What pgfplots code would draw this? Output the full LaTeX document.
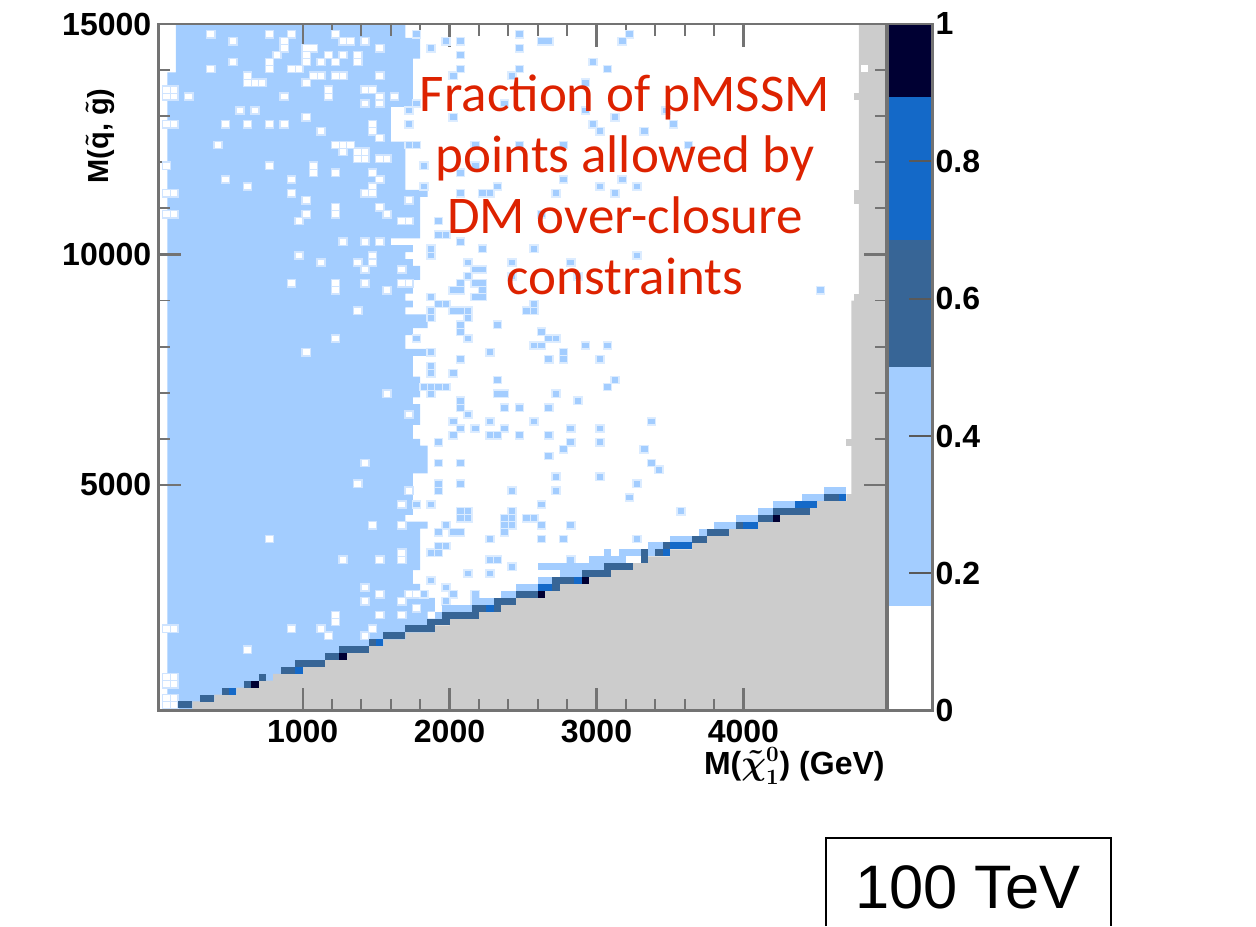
\documentclass[border=0pt]{standalone}
\usepackage{pgfplots}
\usepackage{pgfplotstable}
\usepackage{fontspec}
\pgfplotsset{compat=1.18}
\setmainfont{Liberation Sans}
\newfontfamily\gill{Carlito}
\definecolor{lightb}{HTML}{A3CDFF}
\definecolor{paleb}{HTML}{DCECFF}
\definecolor{palew}{HTML}{CFE4FF}
\definecolor{slate}{HTML}{376596}
\definecolor{midb}{HTML}{1469C8}
\definecolor{navy}{HTML}{000033}
\definecolor{greyr}{HTML}{CCCCCC}
\definecolor{redt}{HTML}{DD2200}
\definecolor{frameg}{gray}{0.45}
\pgfdeclareplotmark{cell}{\pgfpathrectangle{\pgfpoint{-1.84pt}{-1.74pt}}{\pgfpoint{3.68pt}{3.48pt}}\pgfusepathqfill}
\pgfdeclareplotmark{core}{\pgfpathrectangle{\pgfpoint{-1.65pt}{-1.45pt}}{\pgfpoint{3.3pt}{2.9pt}}\pgfusepathqfill}
\pgfdeclareplotmark{halo}{\pgfpathrectangle{\pgfpoint{-2.4pt}{-2.2pt}}{\pgfpoint{4.8pt}{4.4pt}}\pgfusepathqfill}
\pgfplotstableread[row sep=\\]{x y\\
1775 14775\\2475 14775\\3225 14775\\
1975 14625\\2075 14625\\2625 14625\\2675 14625\\3175 14625\\
1875 14475\\2475 14475\\
2075 14325\\
2975 14175\\
2075 14025\\2475 14025\\3075 14025\\
2025 13875\\2425 13875\\
2925 13725\\
2375 13275\\1775 13275\\
1725 13125\\2925 13125\\3475 13125\\
2025 12975\\3125 12975\\
1725 12825\\2975 12825\\3525 12825\\
3025 12675\\3325 12675\\
1725 12375\\1775 12375\\2175 12375\\2475 12375\\2775 12375\\3625 12375\\
1825 11925\\2175 11925\\
2075 11775\\
2775 11625\\3175 11625\\
1825 11475\\2325 11475\\3025 11475\\3275 11475\\
2075 11325\\2225 11325\\2275 11325\\2725 11325\\3125 11325\\
2625 10875\\
1925 10725\\
1925 10425\\1975 10425\\
2075 10275\\
1875 10125\\2225 10125\\2575 10125\\
1875 9975\\3275 9975\\
2125 9825\\2425 9825\\2825 9825\\
2175 9675\\2225 9675\\
2125 9525\\2425 9525\\2875 9525\\
2075 9375\\2175 9375\\2225 9375\\
2025 9225\\2075 9225\\2225 9225\\4525 9225\\
1875 9075\\2175 9075\\2225 9075\\
1925 8925\\1975 8925\\2575 8925\\
1875 8775\\2025 8775\\2075 8775\\2125 8775\\2525 8775\\2575 8775\\
1875 8625\\2125 8625\\
2075 8475\\2325 8475\\
2075 8325\\2625 8325\\
1775 8175\\2125 8175\\2675 8175\\2725 8175\\
2575 8025\\2625 8025\\2925 8025\\3075 8025\\
1875 7875\\2275 7875\\2775 7875\\
2075 7725\\2675 7725\\2775 7725\\3025 7725\\
1875 7575\\
1875 7425\\2025 7425\\
2325 7275\\3125 7275\\
1825 7125\\1875 7125\\1925 7125\\1975 7125\\3075 7125\\
1875 6975\\2325 6975\\2375 6975\\2725 6975\\
2075 6825\\2875 6825\\
2075 6675\\2375 6675\\2475 6675\\2675 6675\\
2125 6525\\
2025 6375\\2275 6375\\2575 6375\\3375 6375\\
2075 6225\\2175 6225\\2375 6225\\2825 6225\\3025 6225\\
2025 6075\\2275 6075\\2325 6075\\2475 6075\\2675 6075\\
1925 5925\\2825 5925\\3025 5925\\
2775 5775\\3325 5775\\
2675 5625\\
1925 5475\\2075 5475\\3375 5475\\
3425 5325\\
2725 5175\\3025 5175\\
1925 5025\\2075 5025\\3275 5025\\
1925 4875\\2425 4875\\2725 4875\\
3225 4725\\
1775 4575\\1875 4575\\2625 4575\\
2075 4425\\2125 4425\\2425 4425\\3575 4425\\
2075 4275\\2125 4275\\2375 4275\\2425 4275\\2525 4275\\2575 4275\\
1975 4125\\2375 4125\\2425 4125\\2625 4125\\2825 4125\\
1925 3975\\2025 3975\\2075 3975\\2375 3975\\
2275 3825\\2625 3825\\2775 3825\\3275 3825\\
1925 3675\\1975 3675\\
1875 3525\\1925 3525\\
2275 3375\\2325 3375\\2825 3375\\
2425 3225\\
2125 3075\\2275 3075\\
1875 2925\\
1975 2775\\
1825 2625\\2025 2625\\2175 2625\\
1975 2475\\2175 2475\\
}\lightcells
\pgfplotstableread[row sep=\\]{x y\\
375 14775\\775 14775\\925 14775\\1225 14775\\
525 14625\\875 14625\\1275 14625\\1325 14625\\1425 14625\\
875 14475\\1025 14475\\1075 14475\\1525 14475\\
825 14325\\1025 14325\\1175 14325\\1275 14325\\1375 14325\\
525 14175\\775 14175\\1025 14175\\1125 14175\\1225 14175\\1375 14175\\
375 14025\\775 14025\\925 14025\\975 14025\\
625 13875\\1075 13875\\1125 13875\\1225 13875\\1275 13875\\1525 13875\\
625 13725\\675 13725\\725 13725\\1025 13725\\
75 13575\\125 13575\\1175 13575\\1425 13575\\1475 13575\\
75 13425\\125 13425\\225 13425\\875 13425\\1175 13425\\1525 13425\\1625 13425\\
1425 13275\\1525 13275\\
575 13125\\675 13125\\
1025 12975\\
75 12825\\125 12825\\475 12825\\625 12825\\775 12825\\875 12825\\1475 12825\\
1125 12675\\1475 12675\\
1525 12525\\
425 12375\\1225 12375\\1275 12375\\1325 12375\\
1275 12225\\1375 12225\\1425 12225\\
1375 12075\\1425 12075\\1525 12075\\1575 12075\\
75 11925\\775 11925\\1075 11925\\
1075 11775\\1225 11775\\1475 11775\\
475 11625\\925 11625\\1525 11625\\
625 11475\\1475 11475\\
75 11325\\125 11325\\925 11325\\1425 11325\\1475 11325\\
1025 11175\\1725 11175\\
1225 11025\\1525 11025\\
75 10875\\125 10875\\1025 10875\\1225 10875\\1575 10875\\
975 10725\\1675 10725\\1725 10725\\
1275 10275\\1425 10275\\1525 10275\\
975 9975\\1475 9975\\
1125 9825\\1375 9825\\1475 9825\\
1425 9675\\1675 9675\\
925 9375\\1225 9375\\1425 9375\\1675 9375\\1725 9375\\
1225 9225\\1575 9225\\
1375 8775\\
1225 8175\\
1025 7875\\
1575 6975\\
1725 6525\\
1425 5475\\
1375 5025\\
1725 4875\\
1675 4575\\
1475 4125\\1675 4125\\
775 3825\\
1675 3525\\
1275 3375\\1525 3375\\1675 3375\\
1425 2775\\
1525 2625\\1725 2625\\1775 2625\\
1425 2475\\1675 2475\\
1775 2325\\
1225 2175\\1525 2175\\1675 2175\\
1225 2025\\
75 1875\\125 1875\\925 1875\\1125 1875\\1475 1875\\
1175 1725\\1425 1725\\
625 1425\\
75 825\\125 825\\75 675\\125 675\\75 375\\125 375\\75 225\\125 225\\
}\whitecells
\pgfplotstableread[row sep=\\]{x y\\
1925 2175\\
1975 2325\\2025 2325\\2075 2325\\2125 2325\\
2175 2475\\2225 2475\\2275 2475\\
2175 2625\\2375 2625\\2425 2625\\
2475 2775\\2525 2775\\2575 2775\\
2625 2925\\2675 2925\\
2775 3075\\2825 3075\\2875 3075\\
2625 3225\\2675 3225\\2725 3225\\2775 3225\\2825 3225\\2875 3225\\2925 3225\\2975 3225\\3025 3225\\
2975 3375\\3025 3375\\3075 3375\\3125 3375\\3175 3375\\
3075 3525\\3175 3525\\3225 3525\\3275 3525\\3375 3525\\
3375 3675\\3425 3675\\
3525 3825\\3575 3825\\3625 3825\\
3725 3975\\
3825 4125\\3875 4125\\3925 4125\\
3975 4275\\4025 4275\\4075 4275\\4125 4275\\
4125 4425\\4175 4425\\
4225 4575\\4275 4575\\4325 4575\\
4425 4725\\4475 4725\\4525 4725\\
4575 4875\\4625 4875\\4675 4875\\
}\bandcells
\pgfplotstableread[row sep=\\]{x y\\
175 225\\225 225\\325 375\\375 375\\475 525\\625 675\\725 825\\875 975\\925 975\\
975 1125\\1025 1125\\1075 1125\\1125 1125\\1175 1275\\1225 1275\\
1275 1425\\1325 1425\\1375 1425\\1425 1425\\1475 1575\\1575 1725\\1625 1725\\1675 1725\\
1725 1875\\1775 1875\\1825 1875\\1875 1875\\1875 2025\\1925 2025\\1975 2025\\
1975 2175\\2025 2175\\2075 2175\\2125 2175\\2175 2175\\2175 2325\\2225 2325\\2325 2325\\
2325 2475\\2375 2475\\2425 2475\\2475 2625\\2525 2625\\2575 2625\\2725 2775\\
2725 2925\\2775 2925\\2825 2925\\2925 3075\\2975 3075\\3025 3075\\3075 3075\\
3075 3225\\3125 3225\\3175 3225\\3225 3225\\3325 3375\\3325 3525\\3425 3525\\3475 3675\\
3675 3825\\3725 3825\\3775 3975\\3825 3975\\3875 3975\\3975 4125\\4125 4275\\4175 4275\\
4225 4425\\4275 4425\\4325 4425\\4375 4425\\4425 4425\\4575 4725\\4625 4725\\
}\slatecells
\pgfplotstableread[row sep=\\]{x y\\
525 525\\975 975\\1525 1575\\2275 2325\\2625 2775\\2675 2775\\2875 2925\\3475 3525\\
3525 3675\\3575 3675\\3625 3675\\4025 4125\\4075 4125\\4375 4575\\4425 4575\\4475 4575\\4675 4725\\
}\bluecells
\pgfplotstableread[row sep=\\]{x y\\
675 675\\1275 1275\\2625 2625\\2925 2925\\4225 4275\\
}\navycells
\pgfplotstableread[row sep=\\]{x y\\
4775 13425\\4775 11325\\4775 11175\\4775 9075\\4725 5925\\
}\greycells
\begin{document}
\begin{tikzpicture}
\useasboundingbox (0,0) rectangle (628pt,463pt);
\begin{axis}[
  at={(79.15pt,107.65pt)}, anchor=south west,
  scale only axis, width=364.2pt, height=343.35pt,
  xmin=18, xmax=4975, ymin=100, ymax=15000,
  axis on top,
  axis line style={frameg, line width=1.3pt},
  xtick={1000,2000,3000,4000}, ytick={5000,10000,15000},
  minor x tick num=4, minor y tick num=4,
  tick align=inside,
  major tick length=11.5pt, minor tick length=6pt,
  major tick style={frameg, line width=1.1pt},
  minor tick style={frameg, line width=0.9pt},
  scaled ticks=false,
  /pgf/number format/assume math mode=true,
  /pgf/number format/1000 sep={},
  tick label style={font=\bfseries\fontsize{16}{16}\selectfont, black},
  xticklabel style={yshift=-1pt},
  clip=true,
]
\addplot [fill=lightb, draw=none] coordinates {
(138,15100)(1700,15100)(1700,14700)(1800,14700)(1800,14250)(1750,14250)(1750,13200)(1600,13200)(1600,12450)
(1700,12450)(1700,11400)(1850,11400)(1850,11250)(1800,11250)(1800,10350)(1600,10350)(1600,10200)(1750,10200)
(1750,10050)(1700,10050)(1700,9900)(1750,9900)(1750,9750)(1800,9750)(1800,9450)(1750,9450)(1750,9150)(1700,9150)
(1700,9000)(1750,9000)(1750,8850)(1700,8850)(1700,8700)(1850,8700)(1850,8400)(1750,8400)(1750,8250)(1700,8250)
(1700,7950)(1850,7950)(1850,7800)(1750,7800)(1750,7350)(1800,7350)(1800,6900)(1750,6900)(1750,6750)(1800,6750)
(1800,6300)(1750,6300)(1750,6000)(1800,6000)(1800,5850)(1850,5850)(1850,5250)(1750,5250)(1750,4950)(1700,4950)
(1700,4800)(1750,4800)(1750,4350)(1700,4350)(1700,4200)(1850,4200)(1850,4050)(1800,4050)(1800,3150)(1750,3150)
(1750,2850)(1800,2850)(1800,2700)(1700,2700)(1700,2550)(1900,2550)(1900,2250)(1850,2250)(1850,2100)(1900,2100)
(1900,0)(80,0)(80,13950)(138,13950)} --cycle;
\addplot [only marks, mark=halo, mark options={fill=palew, draw=none}, forget plot] table {\whitecells};
\addplot [only marks, mark=halo, mark options={fill=paleb, draw=none}, forget plot] table {\lightcells};
\addplot [only marks, mark=core, mark options={fill=white, draw=none}, forget plot] table {\whitecells};
\addplot [only marks, mark=core, mark options={fill=lightb, draw=none}, forget plot] table {\lightcells};
\addplot [only marks, mark=cell, mark options={fill=lightb, draw=none}, forget plot] table {\bandcells};
\addplot [fill=greyr, draw=none] coordinates {
(250,0)(250,300)(400,300)(400,450)(550,450)(550,600)(700,600)(700,750)(800,750)(800,900)(1000,900)(1000,1050)
(1150,1050)(1150,1200)(1300,1200)(1300,1350)(1450,1350)(1450,1500)(1550,1500)(1550,1650)(1700,1650)(1700,1800)
(1900,1800)(1900,1950)(2000,1950)(2000,2100)(2200,2100)(2200,2250)(2350,2250)(2350,2400)(2450,2400)(2450,2550)
(2650,2550)(2650,2700)(2750,2700)(2750,2850)(2950,2850)(2950,3000)(3100,3000)(3100,3150)(3250,3150)(3250,3300)
(3350,3300)(3350,3450)(3500,3450)(3500,3600)(3650,3600)(3650,3750)(3750,3750)(3750,3900)(3900,3900)(3900,4050)
(4100,4050)(4100,4200)(4250,4200)(4250,4350)(4450,4350)(4450,4500)(4500,4500)(4500,4650)(4700,4650)(4700,4800)
(4735,4800)(4735,9000)(4785,9000)(4785,15100)(5100,15100)(5100,0)} --cycle;
\addplot [only marks, mark=cell, mark options={fill=greyr, draw=none}, forget plot] table {\greycells};
\addplot [only marks, mark=cell, mark options={fill=white, draw=none}, forget plot] coordinates {(4825,14025)};
\addplot [only marks, mark=cell, mark options={fill=slate, draw=none}, forget plot] table {\slatecells};
\addplot [only marks, mark=cell, mark options={fill=midb, draw=none}, forget plot] table {\bluecells};
\addplot [only marks, mark=cell, mark options={fill=navy, draw=none}, forget plot] table {\navycells};
\end{axis}
\begin{axis}[
  at={(444pt,107.65pt)}, anchor=south west,
  scale only axis, width=22.25pt, height=343.35pt,
  xmin=0, xmax=1, ymin=0, ymax=1,
  axis on top,
  axis line style={frameg, line width=1.3pt},
  xtick=\empty,
  ytick={0,0.2,0.4,0.6,0.8,1},
  yticklabels={0,0.2,0.4,0.6,0.8,1},
  ytick pos=right, yticklabel pos=right,
  tick align=inside,
  major tick length=12pt,
  major tick style={black!65, line width=1.1pt},
  tick label style={font=\bfseries\fontsize{16}{16}\selectfont, black},
  yticklabel style={xshift=-2pt},
]
\addplot [fill=lightb, draw=none] coordinates {(0,0.152)(1,0.152)(1,0.50)(0,0.50)} --cycle;
\addplot [fill=slate, draw=none] coordinates {(0,0.50)(1,0.50)(1,0.685)(0,0.685)} --cycle;
\addplot [fill=midb, draw=none] coordinates {(0,0.685)(1,0.685)(1,0.894)(0,0.894)} --cycle;
\addplot [fill=navy, draw=none] coordinates {(0,0.894)(1,0.894)(1,1)(0,1)} --cycle;
\end{axis}
\node[anchor=base east, inner sep=0pt, font=\bfseries\fontsize{16}{16}\selectfont\boldmath] at (442.5pt,76pt) {M($\tilde{\chi}_1^0$) (GeV)};
\node[anchor=center, rotate=90, inner sep=0pt, font=\bfseries\fontsize{14.5}{14.5}\selectfont\boldmath] at (50pt,395pt) {M($\tilde{\mathrm{q}}$, $\tilde{\mathrm{g}}$)};
\begin{scope}[every node/.style={anchor=base, inner sep=0pt, text=redt, font=\gill\fontsize{26.5}{26.5}\selectfont}]
\node at (312.5pt,407pt) {Fraction of pMSSM};
\node at (312.5pt,376.5pt) {points allowed by};
\node at (312.5pt,346pt) {DM over-closure};
\node at (312.5pt,315.5pt) {constraints};
\end{scope}
\draw[black, line width=0.8pt] (413pt,0pt) -- (413pt,44pt) -- (555.5pt,44pt) -- (555.5pt,0pt);
\node[anchor=base, inner sep=0pt, font=\fontsize{30.7}{30.7}\selectfont] at (484pt,9pt) {100 TeV};
\end{tikzpicture}
\end{document}
